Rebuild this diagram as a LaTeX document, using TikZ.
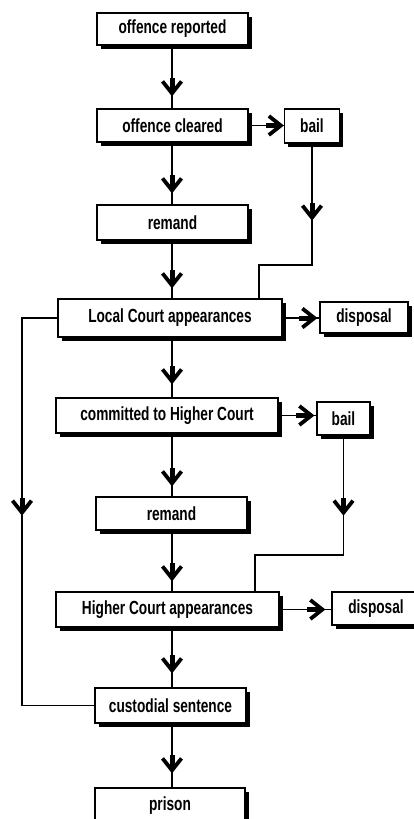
\documentclass[tikz,border=0pt]{standalone}
\usepackage{fontspec}
\setmainfont{Liberation Sans}[FakeStretch=0.72]
\usetikzlibrary{arrows.meta,decorations.markings,shadows}
\begin{document}
\begin{tikzpicture}[x=1pt,y=-1pt,
  box/.style={draw, line width=1.3pt, fill=white, inner sep=0pt,
    font=\bfseries\fontsize{19}{20}\selectfont,
    drop shadow={shadow xshift=3.5pt, shadow yshift=-3.5pt, opacity=1, fill=black}},
  conn/.style={line width=1.4pt},
  chev/.style={conn, postaction={decorate}, decoration={markings,
    mark=at position #1 with {\fill (-16pt,-2.5pt) rectangle (-3pt,2.5pt);
      \draw[line width=3.8pt, line cap=butt, line join=miter, miter limit=10]
        (-13pt,-9.5pt) -- (-1pt,0pt) -- (-13pt,9.5pt);}}}]
\useasboundingbox (0,0) rectangle (414,819);
\clip (0,0) rectangle (414,819);
\fill[white] (0,0) rectangle (414,819);
\coordinate (spine) at (172,0);
\node[box, minimum width=151pt, minimum height=32pt] (rep) at (172.5,29) {offence reported};
\node[box, minimum width=151pt, minimum height=33pt] (clr) at (172.5,125.5) {offence cleared};
\node[box, minimum width=55pt, minimum height=34pt] (bail1) at (312,126) {bail};
\node[box, minimum width=151pt, minimum height=35pt] (rem1) at (172.5,222.5) {remand};
\node[box, minimum width=224pt, minimum height=38pt] (lc) at (170,318) {Local Court appearances};
\node[box, minimum width=88pt, minimum height=31pt] (disp1) at (364,317.5) {disposal};
\node[box, minimum width=222pt, minimum height=35pt] (com) at (167,415.5) {committed to Higher Court};
\node[box, minimum width=53pt, minimum height=33pt] (bail2) at (343.5,418.5) {bail};
\node[box, minimum width=151pt, minimum height=33pt] (rem2) at (171.5,513.5) {remand};
\node[box, minimum width=223pt, minimum height=35pt] (hc) at (167.5,609.5) {Higher Court appearances};
\node[box, minimum width=88pt, minimum height=33pt] (disp2) at (376,608.5) {disposal};
\node[box, minimum width=151pt, minimum height=35pt] (cust) at (170.5,705.5) {custodial sentence};
\node[box, minimum width=150pt, minimum height=35pt] (prison) at (170,805.5) {prison};
\coordinate (k1) at (259,265);
\coordinate (k2) at (255,555);
\coordinate (l1) at (22,318);
% main spine
\draw[chev=-14pt] (rep.south -| spine) -- (clr.north -| spine);
\draw[chev=-13pt] (clr.south -| spine) -- (rem1.north -| spine);
\draw[chev=-12pt] (rem1.south -| spine) -- (lc.north -| spine);
\draw[chev=-15pt] (lc.south -| spine) -- (com.north -| spine);
\draw[chev=-12pt] (com.south -| spine) -- (rem2.north -| spine);
\draw[chev=-12pt] (rem2.south -| spine) -- (hc.north -| spine);
\draw[chev=-16pt] (hc.south -| spine) -- (cust.north -| spine);
\draw[chev=-16pt] (cust.south -| spine) -- (prison.north -| spine);
% side arrows
\draw[chev=-2pt] (clr.east) -- (clr.east -| bail1.west);
\draw[chev=-4pt] (lc.east) -- (lc.east -| disp1.west);
\draw[chev=-4pt] (com.east) -- (com.east -| bail2.west);
\draw[chev=-8pt] (hc.east) -- (hc.east -| disp2.west);
% bail returns
\draw[chev=75pt] (bail1.south) |- (k1) -- (k1 |- lc.north);
\draw[chev=78pt] (bail2.south) |- (k2) -- (k2 |- hc.north);
% left bypass
\draw[chev=231pt] (lc.west) -- (l1) |- (cust.west);
\end{tikzpicture}
\end{document}
